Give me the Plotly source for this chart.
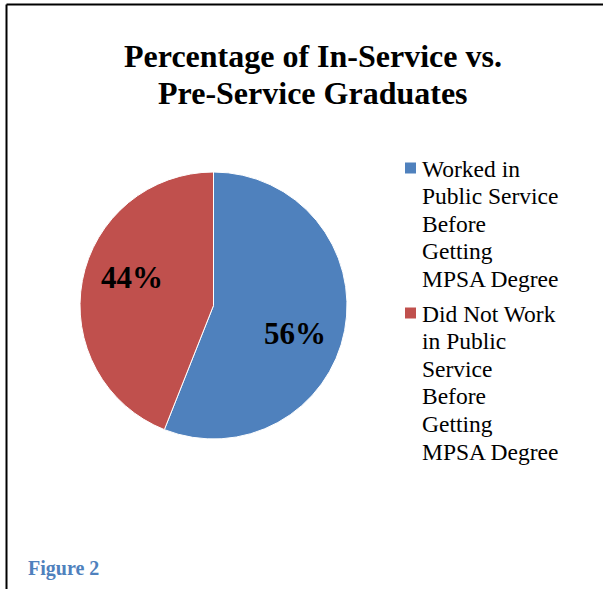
import math
import plotly.graph_objects as go

# Chart data
categories = [
    "Worked in Public Service Before Getting MPSA Degree",
    "Did Not Work in Public Service Before Getting MPSA Degree",
]
legend_lines = [
    ["Worked in", "Public Service", "Before", "Getting", "MPSA Degree"],
    ["Did Not Work", "in Public", "Service", "Before", "Getting", "MPSA Degree"],
]
values = [56, 44]
colors = ["#4F81BD", "#C0504D"]
title_lines = ["Percentage of In-Service vs.", "Pre-Service Graduates"]
caption = "Figure 2"

SERIF = "Liberation Serif, Times New Roman, serif"
W, H = 603, 589

# Pie placement (pixels)
CX, CY, R = 213.5, 305.5, 133.5


def px(x):
    return x / W


def py(y):
    return 1 - y / H


fig = go.Figure(
    go.Pie(
        labels=categories,
        values=values,
        sort=False,
        direction="clockwise",
        rotation=0,
        marker=dict(colors=colors, line=dict(color="white", width=1)),
        textinfo="none",
        domain=dict(x=[px(CX - R), px(CX + R)], y=[py(CY + R), py(CY - R)]),
        showlegend=False,
        hoverinfo="label+percent",
    )
)

annotations = []

# Percentage labels, placed inside each slice from its share of the total
total = sum(values)
start = 0.0
for v in values:
    frac = v / total
    mid = (start + frac / 2) * 2 * math.pi + math.radians(8.5)
    start += frac
    lx = CX + 0.645 * R * math.sin(mid)
    ly = CY - 0.645 * R * math.cos(mid)
    annotations.append(dict(
        text=f"{round(frac * 100)}%", x=px(lx), y=py(ly), xref="paper", yref="paper",
        xanchor="center", yanchor="middle", showarrow=False,
        font=dict(family=SERIF, size=31, color="black", weight="bold"),
    ))

# Title, two centred lines
for text, yc in zip(title_lines, [56, 93]):
    annotations.append(dict(
        text=text, x=px(313), y=py(yc), xref="paper", yref="paper",
        xanchor="center", yanchor="middle", showarrow=False,
        font=dict(family=SERIF, size=32, color="black", weight="bold"),
    ))

# Legend: coloured square plus wrapped label lines
shapes = []
line_gap = 27.6
group_tops = [168.5, 313.5]
for lines, color, top in zip(legend_lines, colors, group_tops):
    shapes.append(dict(
        type="rect", xref="paper", yref="paper",
        x0=px(405), x1=px(416), y0=py(top - 6), y1=py(top + 5),
        fillcolor=color, line=dict(width=0),
    ))
    for i, ln in enumerate(lines):
        annotations.append(dict(
            text=ln, x=px(420), y=py(top + i * line_gap), xref="paper", yref="paper",
            xanchor="left", yanchor="middle", showarrow=False,
            font=dict(family=SERIF, size=23.5, color="black", weight="normal"),
        ))

# Caption
annotations.append(dict(
    text=caption, x=px(26), y=py(568), xref="paper", yref="paper",
    xanchor="left", yanchor="middle", showarrow=False,
    font=dict(family=SERIF, size=20, color="#4F81BD", weight="bold"),
))

# Frame: left and top rules
shapes.append(dict(type="line", xref="paper", yref="paper",
                   x0=px(6.5), x1=px(6.5), y0=0, y1=py(4.5),
                   line=dict(color="black", width=2)))
shapes.append(dict(type="line", xref="paper", yref="paper",
                   x0=px(6.5), x1=1, y0=py(4.5), y1=py(4.5),
                   line=dict(color="black", width=2)))

fig.update_layout(
    width=W, height=H,
    margin=dict(l=0, r=0, t=0, b=0),
    paper_bgcolor="white", plot_bgcolor="white",
    annotations=annotations, shapes=shapes,
    showlegend=False,
)

fig.write_html("out.html")
